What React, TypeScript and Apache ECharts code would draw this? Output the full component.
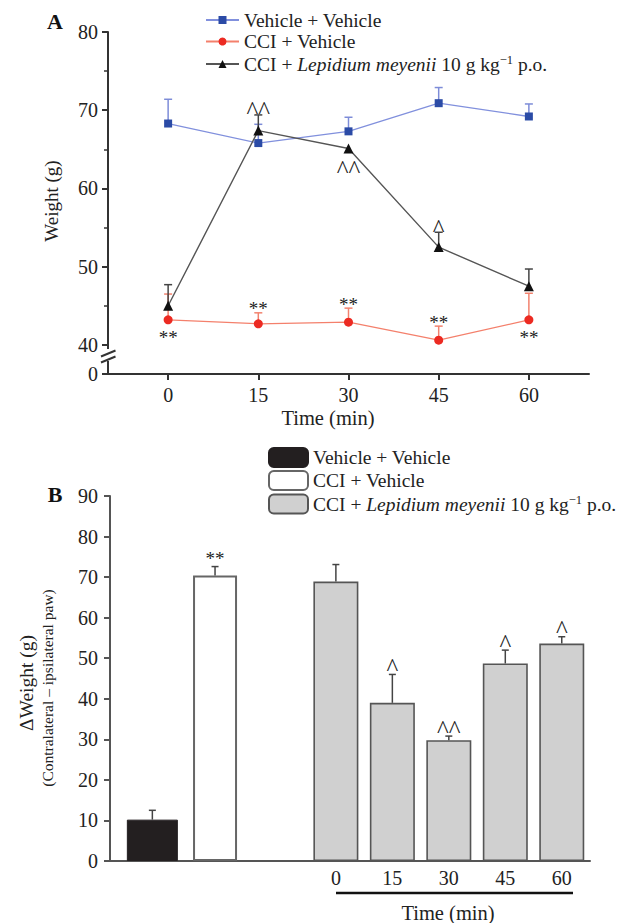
import React, { useEffect, useRef } from 'react';
import * as echarts from 'echarts';

// ---------- Panel A data ----------
const timesA = [0, 15, 30, 45, 60];
const legendNamesA = ['Vehicle + Vehicle', 'CCI + Vehicle', 'CCI + Lepidium meyenii 10 g kg−1 p.o.'];
const vehVehMean = [68.3, 65.8, 67.3, 70.9, 69.2];
const vehVehErr = [3.1, 2.4, 1.8, 2.0, 1.6];
const cciVehMean = [43.2, 42.7, 42.9, 40.6, 43.2];
const cciVehErr = [3.3, 1.4, 1.8, 1.8, 3.4];
const cciLmMean = [45.0, 67.4, 65.1, 52.5, 47.5];
const cciLmErr = [2.7, 2.0, 0, 1.9, 2.2];
const cciVehMarks = ['**', '**', '**', '**', '**'];
const cciVehMarkPos = ['below', 'above', 'above', 'above', 'below'];
const cciLmMarks = ['', '^^', '^^', '^', ''];
const cciLmMarkPos = ['', 'above', 'below', 'above', ''];
const yTicksA = [40, 50, 60, 70, 80];
const yMinorTicksA = [45, 55, 65, 75];
const yBreakBottomA = 36.28; // value at the "0" position below the axis break

// ---------- Panel B data ----------
const legendNamesB = ['Vehicle + Vehicle', 'CCI + Vehicle', 'CCI + Lepidium meyenii 10 g kg−1 p.o.'];
const vvSlot = 0.75;
const cvSlot = 1.86;
const lmSlots = [4, 5, 6, 7, 8];
const timeLabelsB = ['0', '15', '30', '45', '60'];
const vvMean = 10.2;
const vvErr = 2.3;
const cvMean = 70.4;
const cvErr = 2.2;
const cvMark = '**';
const lmMean = [68.9, 39.0, 29.8, 48.7, 53.6];
const lmErr = [4.2, 7.0, 1.0, 3.3, 1.7];
const lmMarks = ['', '^', '^^', '^', '^'];

const SERIF = '"Liberation Serif", "Times New Roman", serif';
const TXT = '#222';
const TICK_FONT = 20;

function errRender(xs: number[], means: number[], errs: number[], color: string, capHalf: number) {
  return (params: any, api: any) => {
    const i = params.dataIndex;
    const e = errs[i];
    if (!e) return { type: 'group', children: [] };
    const p0 = api.coord([xs[i], means[i]]);
    const p1 = api.coord([xs[i], means[i] + e]);
    return {
      type: 'group',
      children: [
        { type: 'line', shape: { x1: p0[0], y1: p0[1], x2: p1[0], y2: p1[1] }, style: { stroke: color, lineWidth: 1.5 } },
        { type: 'line', shape: { x1: p1[0] - capHalf, y1: p1[1], x2: p1[0] + capHalf, y2: p1[1] }, style: { stroke: color, lineWidth: 1.5 } },
      ],
    };
  };
}

function markRender(xs: number[], means: number[], errs: number[], marks: string[], pos: string[], aboveGap: number, belowGap: number) {
  return (params: any, api: any) => {
    const i = params.dataIndex;
    const t = marks[i];
    if (!t) return { type: 'group', children: [] };
    const isAbove = pos[i] !== 'below';
    const p = api.coord([xs[i], isAbove ? means[i] + errs[i] : means[i]]);
    const caret = t.indexOf('^') >= 0;
    const font = caret ? `25px ${SERIF}` : `19px ${SERIF}`;
    return {
      type: 'text',
      x: p[0],
      y: isAbove ? p[1] - aboveGap : p[1] + belowGap + (caret ? 3 : 0),
      style: { text: t, font, fill: TXT, align: 'center', verticalAlign: 'middle', textAlign: 'center', textVerticalAlign: 'middle' },
    };
  };
}

const richStyles = {
  n: { fontFamily: SERIF, fontSize: 19.5, color: TXT, lineHeight: 22 },
  i: { fontFamily: SERIF, fontSize: 19.5, color: TXT, fontStyle: 'italic', lineHeight: 22 },
  s: { fontFamily: SERIF, fontSize: 12.5, color: TXT, lineHeight: 13, verticalAlign: 'top' },
};

function legendFmt(names: string[]) {
  return (name: string) => {
    const idx = Number(name.slice(1));
    const label = names[idx];
    if (label.indexOf('Lepidium') >= 0) {
      return '{n|CCI + }{i|Lepidium meyenii}{n| 10 g kg}{s|−1}{n| p.o.}';
    }
    return `{n|${label}}`;
  };
}

export default function App() {
  const ref = useRef<HTMLDivElement>(null);
  useEffect(() => {
    if (!ref.current) return;
    const chart = echarts.init(ref.current, undefined, { renderer: 'svg' });
    const lmB = lmSlots.map((s, i) => [s, lmMean[i]]);

    const hiddenBX = (gridIndex: number) => ({
      gridIndex, type: 'value', min: 0, max: 8.5, show: false,
      axisLine: { show: false, onZero: false }, axisTick: { show: false }, axisLabel: { show: false }, splitLine: { show: false },
    });

    const option: any = {
      animation: false,
      backgroundColor: '#fff',
      textStyle: { fontFamily: SERIF },
      legend: [
        {
          data: ['A0', 'A1', 'A2'],
          orient: 'vertical',
          left: 205,
          top: 10,
          padding: 0,
          itemWidth: 33,
          itemHeight: 10,
          itemGap: 1.5,
          selectedMode: false,
          formatter: legendFmt(legendNamesA),
          textStyle: { fontFamily: SERIF, fontSize: 19.5, color: TXT, rich: richStyles },
        },
        {
          data: ['B0', 'B1', 'B2'],
          orient: 'vertical',
          left: 268,
          top: 447,
          padding: 0,
          itemWidth: 39,
          itemHeight: 19,
          itemGap: 2,
          selectedMode: false,
          formatter: legendFmt(legendNamesB),
          textStyle: { fontFamily: SERIF, fontSize: 19.5, color: TXT, rich: richStyles },
        },
      ],
      grid: [
        { left: 108, right: 50, top: 32, bottom: 549 },
        { left: 110, right: 49, top: 496, bottom: 62 },
      ],
      xAxis: [
        {
          gridIndex: 0,
          type: 'value',
          min: -10,
          max: 70,
          axisLine: { onZero: false, lineStyle: { color: '#333', width: 2 } },
          axisTick: { show: true, customValues: timesA, length: 6, inside: false, lineStyle: { color: '#333', width: 2 } },
          axisLabel: { customValues: timesA, fontFamily: SERIF, fontSize: TICK_FONT, color: TXT, margin: 11 },
          splitLine: { show: false },
        },
        {
          gridIndex: 1,
          type: 'value',
          min: 0,
          max: 8.5,
          axisLine: { onZero: false, lineStyle: { color: '#555', width: 2 } },
          axisTick: { show: false },
          axisLabel: {
            customValues: lmSlots,
            fontFamily: SERIF,
            fontSize: TICK_FONT,
            color: TXT,
            margin: 7,
            formatter: (v: number) => timeLabelsB[lmSlots.indexOf(Math.round(v))] ?? '',
          },
          splitLine: { show: false },
        },
        hiddenBX(1),
        hiddenBX(1),
      ],
      yAxis: [
        {
          gridIndex: 0,
          type: 'value',
          min: yBreakBottomA,
          max: 80,
          axisLine: { show: true, onZero: false, lineStyle: { color: '#333', width: 2 } },
          axisTick: { show: true, customValues: [yBreakBottomA, ...yTicksA], length: 6, lineStyle: { color: '#333', width: 2 } },
          axisLabel: {
            customValues: [yBreakBottomA, ...yTicksA],
            fontFamily: SERIF,
            fontSize: TICK_FONT,
            color: TXT,
            margin: 10,
            formatter: (v: number) => (v < 39 ? '0' : String(Math.round(v))),
          },
          splitLine: { show: false },
        },
        {
          gridIndex: 0,
          type: 'value',
          position: 'left',
          min: yBreakBottomA,
          max: 80,
          axisLine: { show: false, onZero: false },
          axisTick: { show: true, customValues: yMinorTicksA, length: 4, lineStyle: { color: '#333', width: 1.5 } },
          axisLabel: { show: false, customValues: yMinorTicksA },
          splitLine: { show: false },
        },
        {
          gridIndex: 1,
          type: 'value',
          min: 0,
          max: 90,
          interval: 10,
          axisLine: { show: true, onZero: false, lineStyle: { color: '#555', width: 2 } },
          axisTick: { show: true, length: 6, lineStyle: { color: '#555', width: 2 } },
          axisLabel: { fontFamily: SERIF, fontSize: TICK_FONT, color: TXT, margin: 12 },
          splitLine: { show: false },
        },
      ],
      series: [
        // --- Panel A error bars ---
        {
          type: 'custom', xAxisIndex: 0, yAxisIndex: 0, z: 1, silent: true,
          data: timesA.map((t, i) => [t, vehVehMean[i]]),
          renderItem: errRender(timesA, vehVehMean, vehVehErr, '#7d8cd8', 4),
        },
        {
          type: 'custom', xAxisIndex: 0, yAxisIndex: 0, z: 1, silent: true,
          data: timesA.map((t, i) => [t, cciVehMean[i]]),
          renderItem: errRender(timesA, cciVehMean, cciVehErr, '#f2826e', 4),
        },
        {
          type: 'custom', xAxisIndex: 0, yAxisIndex: 0, z: 1, silent: true,
          data: timesA.map((t, i) => [t, cciLmMean[i]]),
          renderItem: errRender(timesA, cciLmMean, cciLmErr, '#444', 4),
        },
        // --- Panel A lines ---
        {
          type: 'line', name: 'A0', xAxisIndex: 0, yAxisIndex: 0, z: 3,
          data: timesA.map((t, i) => [t, vehVehMean[i]]),
          symbol: 'rect', symbolSize: 8,
          itemStyle: { color: '#2b4ba6' },
          lineStyle: { color: '#8190dd', width: 1.3 },
        },
        {
          type: 'line', name: 'A1', xAxisIndex: 0, yAxisIndex: 0, z: 3,
          data: timesA.map((t, i) => [t, cciVehMean[i]]),
          symbol: 'circle', symbolSize: 9,
          itemStyle: { color: '#ec2a22' },
          lineStyle: { color: '#f4806c', width: 1.3 },
        },
        {
          type: 'line', name: 'A2', xAxisIndex: 0, yAxisIndex: 0, z: 4,
          data: timesA.map((t, i) => [t, cciLmMean[i]]),
          symbol: 'triangle', symbolSize: 10,
          itemStyle: { color: '#111' },
          lineStyle: { color: '#555', width: 1.4 },
        },
        // --- Panel A significance marks ---
        {
          type: 'custom', xAxisIndex: 0, yAxisIndex: 0, z: 5, silent: true,
          data: timesA.map((t, i) => [t, cciVehMean[i]]),
          renderItem: markRender(timesA, cciVehMean, cciVehErr, cciVehMarks, cciVehMarkPos, 4, 17.5),
        },
        {
          type: 'custom', xAxisIndex: 0, yAxisIndex: 0, z: 5, silent: true,
          data: timesA.map((t, i) => [t, cciLmMean[i]]),
          renderItem: markRender(timesA, cciLmMean, cciLmErr, cciLmMarks, cciLmMarkPos, 4, 18),
        },
        // --- Panel B bars ---
        {
          type: 'bar', name: 'B0', xAxisIndex: 2, yAxisIndex: 2, barWidth: 51,
          data: [[vvSlot, vvMean]],
          itemStyle: { color: '#231f20', borderColor: '#231f20', borderWidth: 1 },
        },
        {
          type: 'bar', name: 'B1', xAxisIndex: 3, yAxisIndex: 2, barWidth: 44,
          data: [[cvSlot, cvMean]],
          itemStyle: { color: '#ffffff', borderColor: '#666', borderWidth: 2 },
        },
        {
          type: 'bar', name: 'B2', xAxisIndex: 1, yAxisIndex: 2, barWidth: 45,
          data: lmB,
          itemStyle: { color: '#d0d0d0', borderColor: '#555', borderWidth: 1.6 },
        },
        // --- Panel B error bars ---
        {
          type: 'custom', xAxisIndex: 1, yAxisIndex: 2, z: 3, silent: true,
          data: [[vvSlot, vvMean]],
          renderItem: errRender([vvSlot], [vvMean], [vvErr], '#444', 3.5),
        },
        {
          type: 'custom', xAxisIndex: 1, yAxisIndex: 2, z: 3, silent: true,
          data: [[cvSlot, cvMean]],
          renderItem: errRender([cvSlot], [cvMean], [cvErr], '#444', 3.5),
        },
        {
          type: 'custom', xAxisIndex: 1, yAxisIndex: 2, z: 3, silent: true,
          data: lmB,
          renderItem: errRender(lmSlots, lmMean, lmErr, '#444', 3.5),
        },
        // --- Panel B significance marks ---
        {
          type: 'custom', xAxisIndex: 1, yAxisIndex: 2, z: 5, silent: true,
          data: [[cvSlot, cvMean]],
          renderItem: markRender([cvSlot], [cvMean], [cvErr], [cvMark], ['above'], 8, 0),
        },
        {
          type: 'custom', xAxisIndex: 1, yAxisIndex: 2, z: 5, silent: true,
          data: lmB,
          renderItem: markRender(lmSlots, lmMean, lmErr, lmMarks, ['above', 'above', 'above', 'above', 'above'], 7, 0),
        },
      ],
      graphic: [
        { type: 'text', x: 55, y: 21, z: 100, style: { text: 'A', font: `bold 22px ${SERIF}`, fill: '#111', align: 'center', verticalAlign: 'middle' } },
        { type: 'text', x: 55, y: 494, z: 100, style: { text: 'B', font: `bold 22px ${SERIF}`, fill: '#111', align: 'center', verticalAlign: 'middle' } },
        { type: 'text', x: 51, y: 201, rotation: Math.PI / 2, z: 100, style: { text: 'Weight (g)', font: `19px ${SERIF}`, fill: TXT, align: 'center', verticalAlign: 'middle' } },
        { type: 'text', x: 328, y: 418, z: 100, style: { text: 'Time (min)', font: `20.5px ${SERIF}`, fill: TXT, align: 'center', verticalAlign: 'middle' } },
        { type: 'text', x: 26, y: 683, rotation: Math.PI / 2, z: 100, style: { text: 'ΔWeight (g)', font: `19.5px ${SERIF}`, fill: TXT, align: 'center', verticalAlign: 'middle' } },
        { type: 'text', x: 47, y: 688, rotation: Math.PI / 2, z: 100, style: { text: '(Contralateral – ipsilateral paw)', font: `15.5px ${SERIF}`, fill: TXT, align: 'center', verticalAlign: 'middle' } },
        { type: 'line', z: 100, shape: { x1: 336, y1: 893, x2: 573, y2: 893 }, style: { stroke: '#111', lineWidth: 2.5 } },
        { type: 'text', x: 448, y: 913, z: 100, style: { text: 'Time (min)', font: `20.5px ${SERIF}`, fill: TXT, align: 'center', verticalAlign: 'middle' } },
        // axis break on panel A's y axis
        { type: 'rect', z: 100, shape: { x: 104, y: 349, width: 8, height: 12 }, style: { fill: '#fff' } },
        { type: 'line', z: 101, shape: { x1: 101, y1: 356.5, x2: 115.5, y2: 350.5 }, style: { stroke: '#333', lineWidth: 2 } },
        { type: 'line', z: 101, shape: { x1: 101, y1: 362.5, x2: 115.5, y2: 356.5 }, style: { stroke: '#333', lineWidth: 2 } },
      ],
    };
    chart.setOption(option);
    return () => chart.dispose();
  }, []);
  return <div ref={ref} style={{ position: 'absolute', left: 0, top: 0, width: 639, height: 923, background: '#fff' }} />;
}
